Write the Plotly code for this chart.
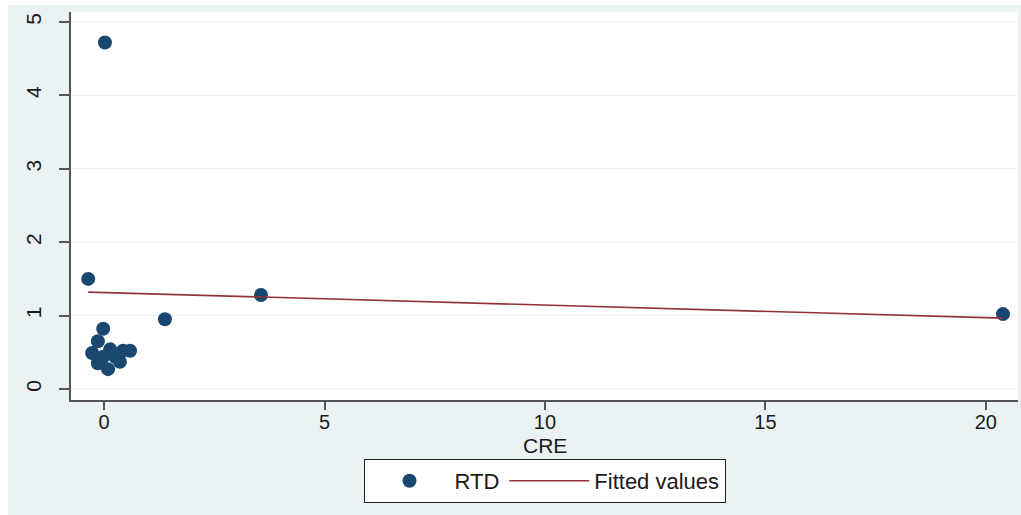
import plotly.graph_objects as go

# RTD against CRE, one point per observation
cre = [0.02, -0.36, -0.02, 3.56, 1.38, 20.39,
       -0.27, -0.14, 0.14, 0.43, 0.59, 0.36, -0.14, 0.09, -0.02, 0.25]
rtd = [4.72, 1.50, 0.82, 1.28, 0.95, 1.02,
       0.49, 0.65, 0.54, 0.52, 0.52, 0.37, 0.35, 0.27, 0.44, 0.44]

# Linear fit evaluated at the ends of the CRE range
fit_x = [-0.36, 20.39]
fit_y = [1.32, 0.965]

x_ticks = [0, 5, 10, 15, 20]
y_ticks = [0, 1, 2, 3, 4, 5]

NAVY = "#1a476f"
MAROON = "#90353b"
BG = "#eaf2f3"
FONT = "Liberation Sans, Arial, sans-serif"

fig = go.Figure()
fig.add_trace(go.Scatter(
    x=cre, y=rtd, mode="markers", name="RTD",
    marker=dict(color=NAVY, size=14, line=dict(width=0)),
))
fig.add_trace(go.Scatter(
    x=fit_x, y=fit_y, mode="lines", name="Fitted values",
    line=dict(color=MAROON, width=1.6),
))

fig.update_layout(
    width=1021, height=515,
    margin=dict(l=71, r=3, t=12, b=115),
    paper_bgcolor=BG, plot_bgcolor="white",
    font=dict(family=FONT, size=21, color="#1a1a1a"),
    showlegend=True,
    legend=dict(
        orientation="h", x=0.5, xanchor="center", y=-0.152, yanchor="top",
        bgcolor="white", bordercolor="#222", borderwidth=1,
        font=dict(size=22), itemwidth=80,
    ),
    xaxis=dict(
        range=[-0.75, 20.73], tickvals=x_ticks, showgrid=False, zeroline=False,
        showline=True, linecolor="#555", linewidth=1.5,
        ticks="outside", ticklen=8, tickcolor="#555", tickwidth=1.5,
        tickfont=dict(size=20), ticklabelstandoff=-5,
    ),
    yaxis=dict(
        range=[-0.15, 5.136], tickvals=y_ticks, showgrid=True, gridcolor=BG,
        gridwidth=1, zeroline=False, showline=True, linecolor="#555",
        linewidth=1.5, ticks="outside", ticklen=10, tickcolor="#555",
        tickwidth=1.5, tickangle=-90, ticklabelstandoff=10,
        tickfont=dict(size=21),
    ),
    annotations=[
        # x-axis title sits tight under the tick labels
        dict(text="CRE", xref="paper", yref="paper", x=0.5, y=-0.116,
             xanchor="center", yanchor="middle", showarrow=False,
             font=dict(size=21)),
    ],
    shapes=[
        # thin white frame around the graph region
        dict(type="rect", xref="paper", yref="paper", layer="below",
             x0=-0.08, x1=(8 - 71) / 947, y0=-0.3, y1=1.05,
             fillcolor="white", line=dict(width=0)),
        dict(type="rect", xref="paper", yref="paper", layer="below",
             x0=-0.08, x1=1.01, y0=(400 - 5) / 388, y1=1.05,
             fillcolor="white", line=dict(width=0)),
    ],
)

fig.write_html("out.html")
